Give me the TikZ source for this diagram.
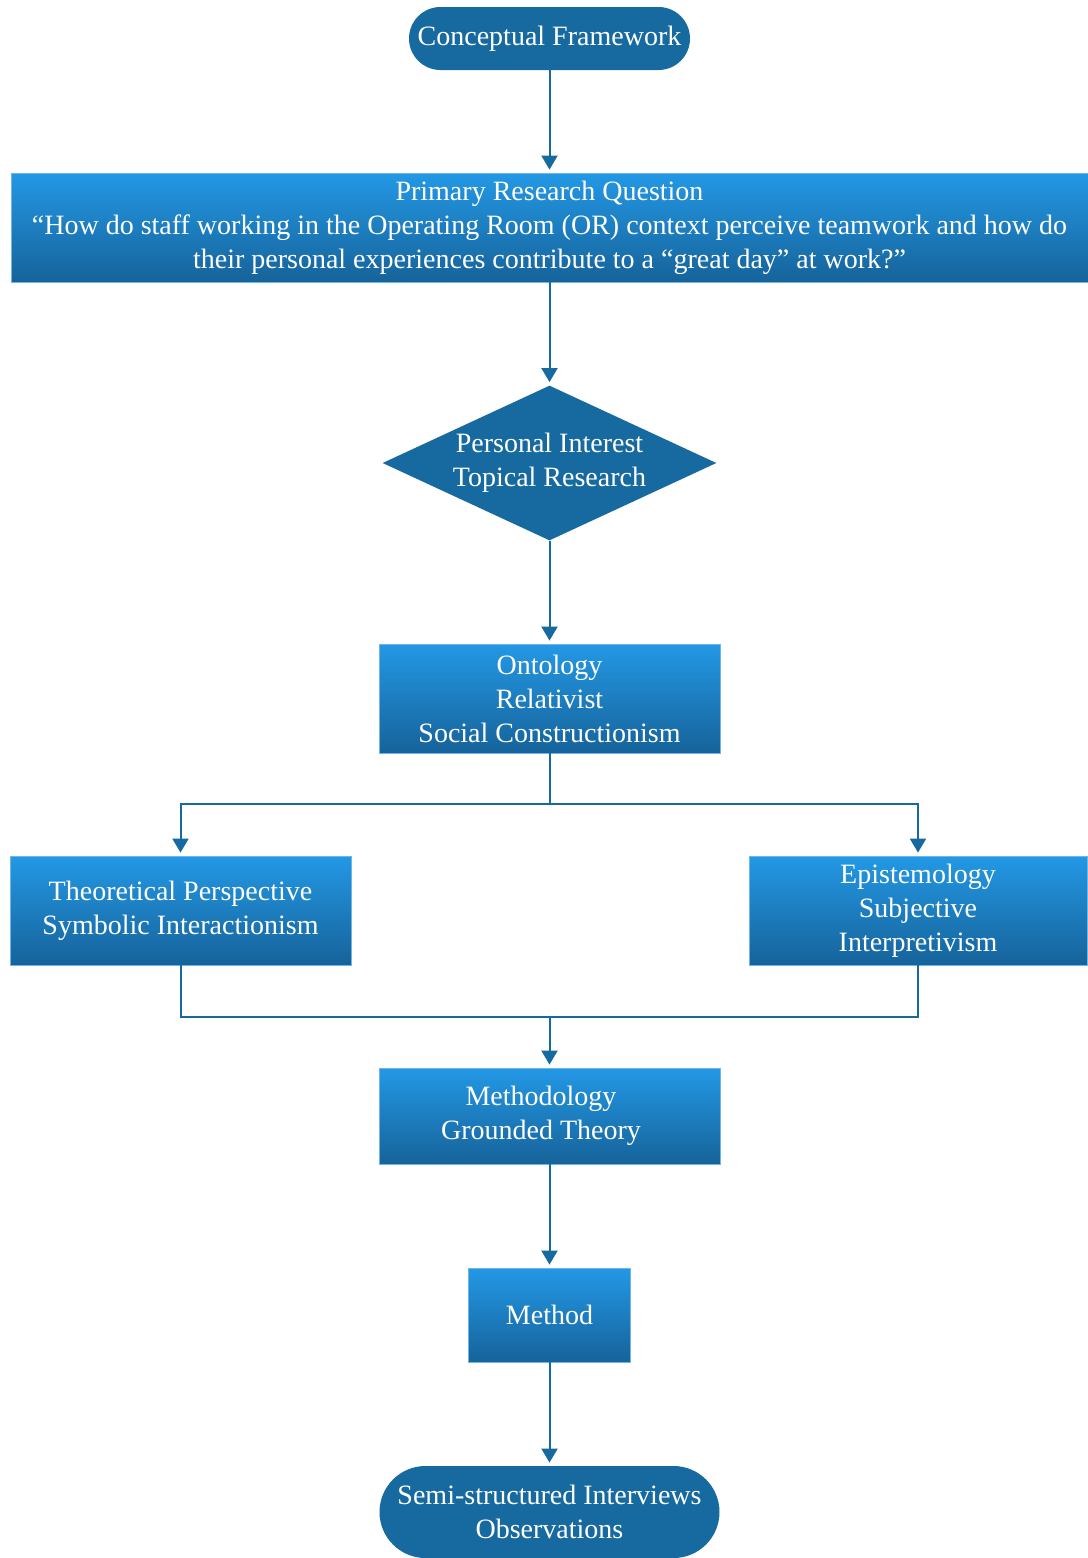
\documentclass[tikz,border=0pt]{standalone}
\usepackage{fontspec}
\setmainfont{Liberation Serif}
\usetikzlibrary{shapes.geometric,arrows.meta}
\definecolor{primary}{HTML}{176AA0}
\definecolor{boxtop}{HTML}{2398E5}
\definecolor{boxbot}{HTML}{16639A}
\definecolor{boxedge}{HTML}{6FB6E6}

\begin{document}
\begin{tikzpicture}[x=0.5pt, y=-0.5pt,
  term/.style={rectangle, fill=primary, text=white, font=\fontsize{14}{17}\selectfont, align=center, inner sep=0pt},
  proc/.style={rectangle, top color=boxtop, bottom color=boxbot, draw=boxedge, line width=0.4pt, text=white, font=\fontsize{14}{17}\selectfont, align=center, inner sep=0pt},
  dec/.style={diamond, aspect=2.15, fill=primary, text=white, font=\fontsize{14}{17}\selectfont, align=center, inner sep=0pt, minimum width=167pt, minimum height=77.5pt},
  arr/.style={-{Triangle[length=7pt, width=8pt]}, line width=1pt, primary, shorten >=1.5pt},
  wire/.style={line width=1pt, primary}
]
  \useasboundingbox (0,0) rectangle (1087,1558);
  \node[term, minimum width=140.5pt, minimum height=31.5pt, rounded corners=15.75pt] (cf) at (549.5,38.5) {Conceptual Framework};
  \node[proc, minimum width=538.5pt, minimum height=54.5pt] (rq) at (549.5,227.5) {Primary Research Question\\“How do staff working in the Operating Room (OR) context perceive teamwork and how do\\their personal experiences contribute to a “great day” at work?”};
  \node[dec] (pi) at (549.5,463) {Personal Interest\\Topical Research};
  \node[proc, minimum width=170.5pt, minimum height=54.5pt] (ont) at (549.5,698.5) {Ontology\\Relativist\\Social Constructionism};
  \node[proc, minimum width=170.5pt, minimum height=54.5pt] (theo) at (180.5,910.5) {Theoretical Perspective\\Symbolic Interactionism};
  \node[proc, minimum width=169pt, minimum height=54.5pt] (epi) at (918,910.5) {Epistemology\\Subjective\\Interpretivism};
  \node[proc, minimum width=170.5pt, minimum height=48pt] (meth) at (549.5,1116) {\hspace*{-8.5pt}Methodology\\\hspace*{-8.5pt}Grounded Theory};
  \node[proc, minimum width=81pt, minimum height=47pt] (mtd) at (549.5,1315) {Method};
  \node[term, minimum width=170pt, minimum height=46pt, rounded corners=23pt] (obs) at (549.5,1512) {Semi-structured Interviews\\Observations};

  \coordinate (split) at (549.5,804);
  \coordinate (join) at (549.5,1017);

  % straight links down the middle
  \foreach \a/\b in {cf/rq, rq/pi, pi/ont, meth/mtd, mtd/obs}{\draw[arr] (\a) -- (\b);}
  % branch out and back in
  \draw[wire] (ont) -- (split);
  \foreach \d in {theo,epi}{\draw[arr] (split) -| (\d);}
  \foreach \d in {theo,epi}{\draw[wire] (\d) |- (join);}
  \draw[arr] (join) -- (meth);
\end{tikzpicture}
\end{document}
